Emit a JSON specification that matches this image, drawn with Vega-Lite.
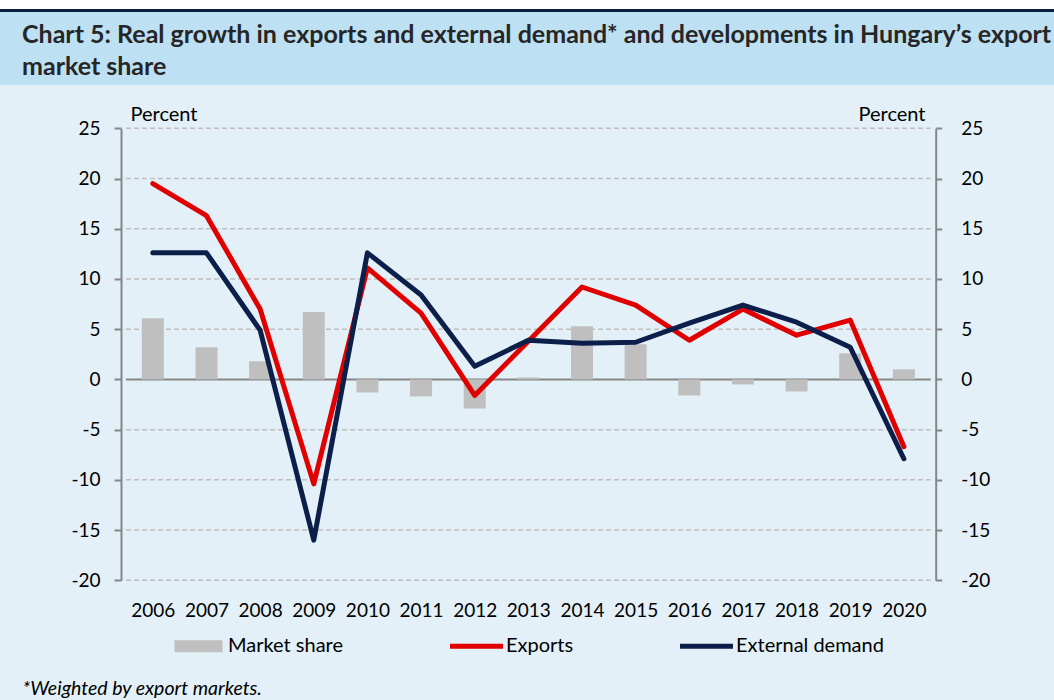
{
  "$schema": "https://vega.github.io/schema/vega-lite/v6.json",
  "background": "#bde0f2",
  "padding": 0,
  "spacing": 10,
  "config": {
    "font": "Lato",
    "view": {"stroke": null},
    "axis": {"labelColor": "#000000", "titleColor": "#000000", "labelFontSize": 19, "titleFontSize": 20, "titleFontWeight": "normal", "labelFont": "Lato", "titleFont": "Lato"}
  },
  "datasets": {
    "main": [
      {"year": 2006, "series": "Market share", "value": 6.1},
      {"year": 2007, "series": "Market share", "value": 3.2},
      {"year": 2008, "series": "Market share", "value": 1.8},
      {"year": 2009, "series": "Market share", "value": 6.7},
      {"year": 2010, "series": "Market share", "value": -1.3},
      {"year": 2011, "series": "Market share", "value": -1.7},
      {"year": 2012, "series": "Market share", "value": -2.9},
      {"year": 2013, "series": "Market share", "value": 0.2},
      {"year": 2014, "series": "Market share", "value": 5.3},
      {"year": 2015, "series": "Market share", "value": 3.5},
      {"year": 2016, "series": "Market share", "value": -1.6},
      {"year": 2017, "series": "Market share", "value": -0.5},
      {"year": 2018, "series": "Market share", "value": -1.2},
      {"year": 2019, "series": "Market share", "value": 2.6},
      {"year": 2020, "series": "Market share", "value": 1.0},
      {"year": 2006, "series": "Exports", "value": 19.5},
      {"year": 2007, "series": "Exports", "value": 16.3},
      {"year": 2008, "series": "Exports", "value": 7.0},
      {"year": 2009, "series": "Exports", "value": -10.4},
      {"year": 2010, "series": "Exports", "value": 11.1},
      {"year": 2011, "series": "Exports", "value": 6.6},
      {"year": 2012, "series": "Exports", "value": -1.6},
      {"year": 2013, "series": "Exports", "value": 3.8},
      {"year": 2014, "series": "Exports", "value": 9.2},
      {"year": 2015, "series": "Exports", "value": 7.4},
      {"year": 2016, "series": "Exports", "value": 3.9},
      {"year": 2017, "series": "Exports", "value": 7.0},
      {"year": 2018, "series": "Exports", "value": 4.4},
      {"year": 2019, "series": "Exports", "value": 5.9},
      {"year": 2020, "series": "Exports", "value": -6.7},
      {"year": 2006, "series": "External demand", "value": 12.6},
      {"year": 2007, "series": "External demand", "value": 12.6},
      {"year": 2008, "series": "External demand", "value": 4.9},
      {"year": 2009, "series": "External demand", "value": -16.0},
      {"year": 2010, "series": "External demand", "value": 12.6},
      {"year": 2011, "series": "External demand", "value": 8.4},
      {"year": 2012, "series": "External demand", "value": 1.3},
      {"year": 2013, "series": "External demand", "value": 3.9},
      {"year": 2014, "series": "External demand", "value": 3.6},
      {"year": 2015, "series": "External demand", "value": 3.7},
      {"year": 2016, "series": "External demand", "value": 5.6},
      {"year": 2017, "series": "External demand", "value": 7.4},
      {"year": 2018, "series": "External demand", "value": 5.7},
      {"year": 2019, "series": "External demand", "value": 3.2},
      {"year": 2020, "series": "External demand", "value": -7.9}
    ],
    "grid": [
      {"v": -20}, {"v": -15}, {"v": -10}, {"v": -5}, {"v": 5}, {"v": 10}, {"v": 15}, {"v": 20}, {"v": 25}
    ]
  },
  "vconcat": [
    {
      "spacing": 0,
      "vconcat": [
        {"width": 1054, "height": 9, "view": {"fill": "#ffffff", "stroke": null}, "data": {"values": []}, "mark": "point", "encoding": {}},
        {"width": 1054, "height": 3, "view": {"fill": "#0b1f45", "stroke": null}, "data": {"values": []}, "mark": "point", "encoding": {}}
      ]
    },
    {
      "width": 1054,
      "height": 615,
      "view": {"fill": "#e3f0f7", "stroke": null},
      "title": {
        "text": ["Chart 5: Real growth in exports and external demand* and developments in Hungary’s export", "market share"],
        "anchor": "start", "frame": "group", "orient": "top", "baseline": "alphabetic",
        "offset": -14.6, "dx": 22, "fontSize": 25, "fontWeight": "bold", "font": "Lato",
        "color": "#262626", "lineHeight": 32
      },
      "data": {"name": "main"},
      "layer": [
        {
          "data": {"name": "grid"},
          "mark": {"type": "rule", "strokeDash": [5, 3], "color": "#bfbfbf", "strokeWidth": 1.5},
          "encoding": {
            "x": {
              "datum": 2005.5, "type": "quantitative",
              "scale": {"domain": [2005.5, 2020.5], "range": [121, 935.7], "nice": false, "zero": false},
              "axis": {"orient": "bottom", "offset": -119.7, "values": [2006, 2007, 2008, 2009, 2010, 2011, 2012, 2013, 2014, 2015, 2016, 2017, 2018, 2019, 2020], "format": "d", "domain": false, "ticks": false, "grid": false, "labelPadding": 21, "labelFlush": false, "labelOverlap": false,
                "title": "*Weighted by export markets.", "titleX": 22, "titleY": 113.7, "titleAlign": "left", "titleAnchor": "start", "titleBaseline": "alphabetic", "titleAngle": 0, "titleFontStyle": "italic", "titleFontSize": 19.5}
            },
            "x2": {"datum": 2020.5},
            "y": {
              "field": "v", "type": "quantitative",
              "scale": {"domain": [-20, 25], "nice": false, "zero": false, "range": [495.3, 43.3]},
              "axis": {"orient": "left", "offset": -121, "values": [-20, -15, -10, -5, 0, 5, 10, 15, 20, 25], "labelExpr": "datum.value < 0 ? '-' + abs(datum.value) : '' + datum.value", "domain": true, "domainColor": "#868686", "domainWidth": 2, "tickColor": "#868686", "tickWidth": 2, "tickSize": 7, "labelPadding": 14, "grid": false, "title": "Percent", "titleAngle": 0, "titleAlign": "left", "titleBaseline": "alphabetic", "titleX": 9, "titleY": 35.8}
            }
          }
        },
        {
          "data": {"values": [{"v": 0}]},
          "mark": {"type": "rule", "color": "#868686", "strokeWidth": 2},
          "encoding": {
            "x": {"datum": 2005.5, "type": "quantitative"},
            "x2": {"datum": 2020.5},
            "y": {"field": "v", "type": "quantitative", "axis": null}
          }
        },
        {
          "transform": [{"filter": "datum.series === 'Market share'"}],
          "mark": {"type": "bar", "width": 22},
          "encoding": {
            "x": {"field": "year", "type": "quantitative"},
            "y": {
              "field": "value", "type": "quantitative",
              "axis": {"orient": "right", "offset": -118.3, "values": [-20, -15, -10, -5, 0, 5, 10, 15, 20, 25], "labelExpr": "datum.value < 0 ? '-' + abs(datum.value) : '' + datum.value", "domain": true, "domainColor": "#868686", "domainWidth": 2, "tickColor": "#868686", "tickWidth": 2, "tickSize": 6, "labelPadding": 19, "grid": false, "title": "Percent", "titleAngle": 0, "titleAlign": "right", "titleBaseline": "alphabetic", "titleX": -10.7, "titleY": 35.8}
            },
            "color": {
              "field": "series", "type": "nominal",
              "scale": {"domain": ["Market share", "Exports", "External demand"], "range": ["#bfbfbf", "#e00000", "#0c1f4a"]},
              "legend": {
                "title": null, "orient": "none", "legendX": 172, "legendY": 619.5, "direction": "horizontal",
                "columnPadding": 106, "labelOffset": 3, "symbolSize": 2809, "symbolStrokeWidth": 0,
                "labelFontSize": 20, "labelColor": "#000000", "labelFont": "Lato", "padding": 0,
                "encode": {
                  "symbols": {
                    "update": {
                      "shape": {"signal": "datum.value === 'Market share' ? 'M-0.906,-0.226H0.906V0.226H-0.906Z' : 'M-1,-0.09H1V0.09H-1Z'"},
                      "fill": {"scale": "color", "field": "value"},
                      "opacity": {"value": 1},
                      "strokeWidth": {"value": 0}
                    }
                  }
                }
              }
            }
          }
        },
        {
          "transform": [{"filter": "datum.series !== 'Market share'"}],
          "mark": {"type": "line", "strokeWidth": 5, "strokeCap": "round", "strokeJoin": "round"},
          "encoding": {
            "x": {"field": "year", "type": "quantitative"},
            "y": {"field": "value", "type": "quantitative", "axis": null},
            "color": {"field": "series", "type": "nominal"}
          }
        }
      ],
      "resolve": {"axis": {"y": "independent"}}
    }
  ]
}
